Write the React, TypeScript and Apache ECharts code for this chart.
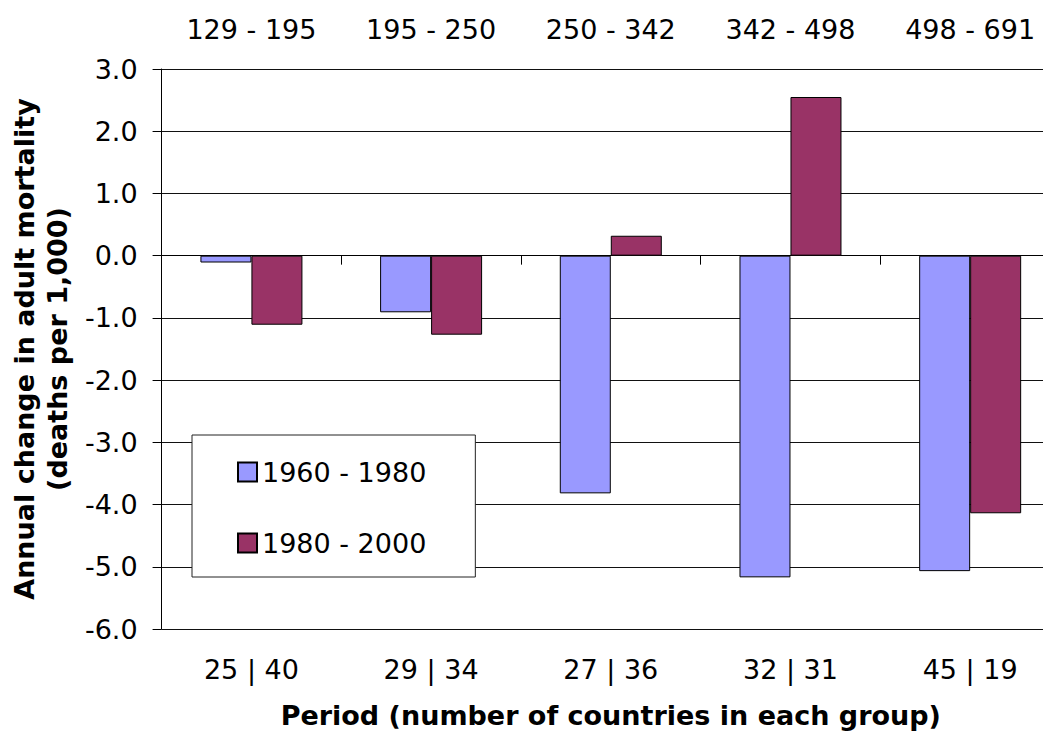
import React, { useEffect, useRef } from "react";
import * as echarts from "echarts";

const categories = ["25 | 40", "29 | 34", "27 | 36", "32 | 31", "45 | 19"];
const topLabels = ["129 - 195", "195 - 250", "250 - 342", "342 - 498", "498 - 691"];
const series1960 = [-0.11, -0.91, -3.82, -5.17, -5.07];
const series1980 = [-1.11, -1.27, 0.32, 2.55, -4.14];
const seriesNames = ["1960 - 1980", "1980 - 2000"];
const yTicks = { min: -6, max: 3, interval: 1 };

const FONT = "DejaVu Sans";

export default function App() {
  const ref = useRef<HTMLDivElement>(null);
  useEffect(() => {
    if (!ref.current) return;
    const chart = echarts.init(ref.current, null, { renderer: "svg" });
    chart.setOption({
      animation: false,
      textStyle: { fontFamily: FONT, color: "#000" },
      grid: { left: 161, top: 69, right: 0, bottom: 104, containLabel: false },
      legend: {
        orient: "vertical",
        left: 192,
        top: 435,
        padding: [22, 49, 19, 45],
        itemGap: 41,
        itemWidth: 19,
        itemHeight: 19,
        itemGap: 41,
        icon: "rect",
        borderColor: "#222",
        borderWidth: 1,
        backgroundColor: "#fff",
        textStyle: { fontSize: 27, fontFamily: FONT, color: "#000", lineHeight: 30 },
        data: seriesNames,
      },
      xAxis: [
        {
          type: "category",
          data: categories,
          position: "bottom",
          axisLine: { show: true, onZero: true, lineStyle: { color: "#000", width: 1 } },
          axisTick: { show: true, length: 9, lineStyle: { color: "#000" } },
          axisLabel: { show: false },
          splitLine: { show: false },
        },
        {
          type: "category",
          data: categories,
          position: "bottom",
          axisLine: { show: false, onZero: false },
          axisTick: { show: false },
          axisLabel: { show: true, fontSize: 27, fontFamily: FONT, color: "#000", margin: 27 },
          name: "Period (number of countries in each group)",
          nameLocation: "middle",
          nameGap: 73,
          nameTextStyle: { fontSize: 27, fontWeight: "bold", fontFamily: FONT, color: "#000" },
        },
        {
          type: "category",
          data: topLabels,
          position: "top",
          axisLine: { show: false, onZero: false },
          axisTick: { show: false },
          axisLabel: { show: true, fontSize: 27, fontFamily: FONT, color: "#000", margin: 26 },
        },
      ],
      yAxis: {
        type: "value",
        min: yTicks.min,
        max: yTicks.max,
        interval: yTicks.interval,
        axisLine: { show: true, lineStyle: { color: "#000", width: 1 } },
        axisTick: { show: true, length: 9, lineStyle: { color: "#000" } },
        axisLabel: {
          fontSize: 27,
          fontFamily: FONT,
          color: "#000",
          margin: 24,
          formatter: (v: number) => v.toFixed(1),
        },
        splitLine: { show: true, lineStyle: { color: "#111", width: 1 } },
        name: "Annual change in adult mortality\n(deaths per 1,000)",
        nameLocation: "middle",
        nameRotate: 90,
        nameGap: 84,
        nameTextStyle: { fontSize: 27, fontWeight: "bold", fontFamily: FONT, color: "#000", lineHeight: 33 },
      },
      series: [
        {
          name: seriesNames[0],
          type: "bar",
          xAxisIndex: 0,
          data: series1960,
          barWidth: 51,
          barGap: "0%",
          itemStyle: { color: "#9999FF", borderColor: "#000", borderWidth: 1 },
        },
        {
          name: seriesNames[1],
          type: "bar",
          xAxisIndex: 0,
          data: series1980,
          barWidth: 51,
          barGap: "0%",
          itemStyle: { color: "#993366", borderColor: "#000", borderWidth: 1 },
        },
      ],
    });
    return () => chart.dispose();
  }, []);
  return (
    <div style={{ width: 1043, height: 734, position: "absolute", left: 0, top: 0, overflow: "hidden" }}>
      <div ref={ref} style={{ width: 1060, height: 734 }} />
    </div>
  );
}
